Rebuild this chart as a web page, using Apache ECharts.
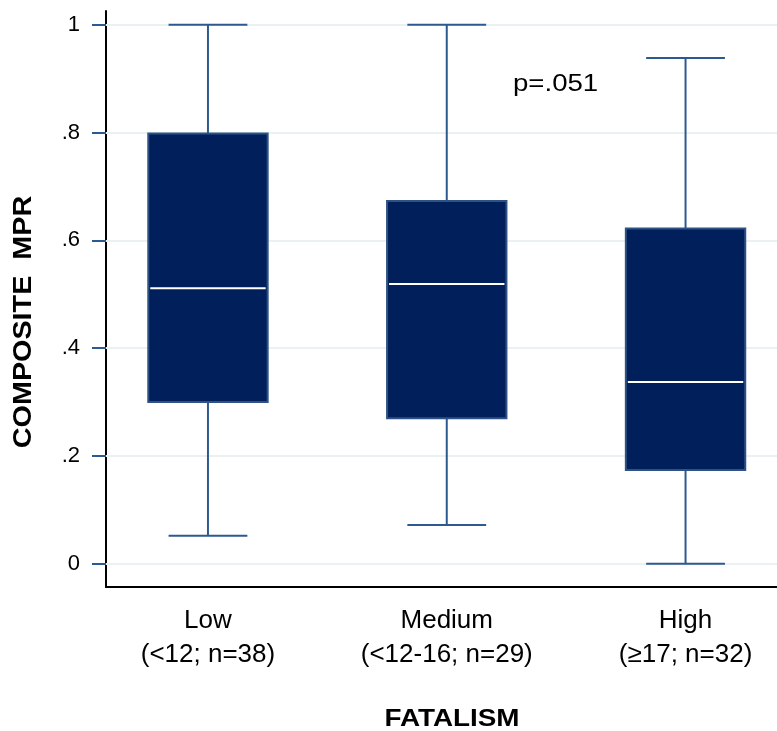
<!DOCTYPE html>
<html>
<head>
<meta charset="utf-8">
<script src="https://cdn.jsdelivr.net/npm/echarts@6/dist/echarts.min.js"></script>
<style>
  html, body { margin: 0; padding: 0; background: #fff; }
  #chart { width: 777px; height: 731px; }
</style>
</head>
<body>
<div id="chart"></div>
<script>
// groups of the fatalism score
const categories = ['Low', 'Medium', 'High'];
const subLabels = ['(<12; n=38)', '(<12-16; n=29)', '(\u226517; n=32)'];
const positions = [1, 2, 3];

// box statistics
const whiskerLow = [0.052, 0.072, 0.0];
const quartile1 = [0.300, 0.270, 0.174];
const medians = [0.511, 0.519, 0.337];
const quartile3 = [0.798, 0.673, 0.622];
const whiskerHigh = [1.0, 1.0, 0.938];

const yTicks = [0, 0.2, 0.4, 0.6, 0.8, 1];
const pValueText = 'p=.051';
const yTitle = 'COMPOSITE  MPR';
const xTitle = 'FATALISM';

const FONT = '"Liberation Sans", Arial, sans-serif';
const BOX_FILL = '#01205b';
const BOX_EDGE = '#2d5283';
const WHISKER = '#2c5a8e';

const boxData = positions.map((p, i) => [
  p, whiskerLow[i], quartile1[i], medians[i], quartile3[i], whiskerHigh[i],
]);

const fmtTick = (v) => {
  if (v === 0) return '0';
  if (v === 1) return '1';
  return String(+v.toFixed(1)).replace(/^0\./, '.');
};

const chart = echarts.init(document.getElementById('chart'), null, { renderer: 'canvas' });

chart.setOption({
  animation: false,
  grid: { left: 106, right: 0, top: 11, bottom: 144, containLabel: false },
  xAxis: {
    type: 'value',
    min: 0.573,
    max: 3.383,
    axisLine: { show: true, onZero: false, lineStyle: { color: '#000', width: 2 } },
    axisTick: { show: false },
    splitLine: { show: false },
    axisLabel: {
      customValues: positions,
      margin: 17,
      fontFamily: FONT,
      fontSize: 26,
      lineHeight: 34,
      color: '#000',
      formatter: (v) => {
        const i = positions.indexOf(Math.round(v));
        return i < 0 ? '' : categories[i] + '\n' + subLabels[i];
      },
    },
  },
  yAxis: {
    type: 'value',
    min: -0.0432,
    max: 1.0254,
    axisLine: { show: true, onZero: false, lineStyle: { color: '#000', width: 2 } },
    axisTick: {
      show: true,
      customValues: yTicks,
      length: 14,
      lineStyle: { color: WHISKER, width: 2 },
    },
    axisLabel: {
      customValues: yTicks,
      margin: 26,
      fontFamily: FONT,
      fontSize: 22,
      color: '#000',
      formatter: fmtTick,
    },
    splitLine: { show: false },
  },
  graphic: [
    {
      type: 'text',
      x: 513,
      y: 84,
      scaleX: 1.15,
      style: { text: pValueText, font: '24px ' + FONT, fill: '#000', verticalAlign: 'middle' },
    },
    {
      type: 'text',
      x: 452,
      y: 719,
      scaleX: 1.16,
      style: {
        text: xTitle,
        font: 'bold 24px ' + FONT,
        fill: '#000',
        align: 'center',
        verticalAlign: 'middle',
      },
    },
    {
      type: 'text',
      x: 24,
      y: 322,
      rotation: Math.PI / 2,
      scaleX: 1.15,
      style: {
        text: yTitle,
        font: 'bold 25px ' + FONT,
        fill: '#000',
        align: 'center',
        verticalAlign: 'middle',
      },
    },
  ],
  series: [
    {
      // grid lines at the tick values
      type: 'line',
      data: [],
      silent: true,
      markLine: {
        silent: true,
        symbol: 'none',
        label: { show: false },
        lineStyle: { color: '#e9f1f3', width: 2, type: 'solid' },
        data: yTicks.map((v) => ({ yAxis: v })),
      },
    },
    {
      type: 'custom',
      data: boxData,
      zlevel: 1,
      renderItem: (params, api) => {
        const x = api.value(0);
        const pMin = api.coord([x, api.value(1)]);
        const pQ1 = api.coord([x, api.value(2)]);
        const pMed = api.coord([x, api.value(3)]);
        const pQ3 = api.coord([x, api.value(4)]);
        const pMax = api.coord([x, api.value(5)]);
        const boxW = api.size([0.5, 0])[0];
        const capW = api.size([0.33, 0])[0];
        const cx = pQ1[0];
        const lineStyle = { stroke: WHISKER, lineWidth: 2 };
        return {
          type: 'group',
          children: [
            { type: 'line', shape: { x1: cx, y1: pQ3[1], x2: cx, y2: pMax[1] }, style: lineStyle },
            { type: 'line', shape: { x1: cx, y1: pQ1[1], x2: cx, y2: pMin[1] }, style: lineStyle },
            { type: 'line', shape: { x1: cx - capW / 2, y1: pMax[1], x2: cx + capW / 2, y2: pMax[1] }, style: lineStyle },
            { type: 'line', shape: { x1: cx - capW / 2, y1: pMin[1], x2: cx + capW / 2, y2: pMin[1] }, style: lineStyle },
            {
              type: 'rect',
              shape: { x: cx - boxW / 2, y: pQ3[1], width: boxW, height: pQ1[1] - pQ3[1] },
              style: { fill: BOX_FILL, stroke: BOX_EDGE, lineWidth: 2 },
            },
            {
              type: 'line',
              shape: { x1: cx - boxW / 2 + 2, y1: pMed[1], x2: cx + boxW / 2 - 2, y2: pMed[1] },
              style: { stroke: '#ffffff', lineWidth: 2 },
            },
          ],
        };
      },
    },
  ],
});
</script>
</body>
</html>
